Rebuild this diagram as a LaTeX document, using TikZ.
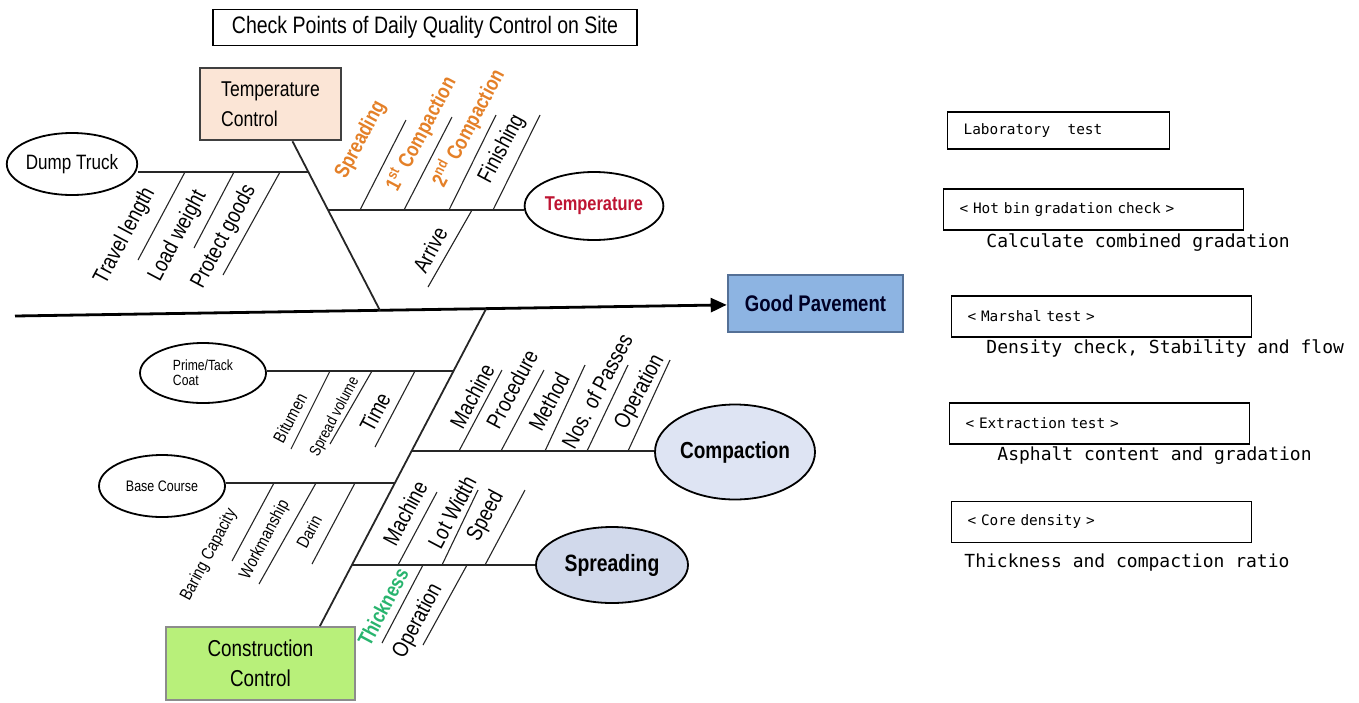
\documentclass[tikz,border=0pt]{standalone}
\usepackage{fontspec}
\setmainfont{Liberation Sans}[FakeStretch=0.82]
\newfontfamily\labmono{DejaVu Sans Mono}
\usetikzlibrary{arrows.meta,shapes.geometric}
\definecolor{tcfill}{RGB}{251,229,214}
\definecolor{ccfill}{RGB}{184,240,122}
\definecolor{gpfill}{RGB}{141,180,226}
\definecolor{gpdraw}{RGB}{84,112,150}
\definecolor{cpfill}{RGB}{222,228,243}
\definecolor{spfill}{RGB}{209,217,235}
\definecolor{tempred}{RGB}{190,20,50}
\definecolor{orng}{RGB}{228,128,40}
\definecolor{thgreen}{RGB}{40,180,110}

\begin{document}
\begin{tikzpicture}[x=0.5pt,y=-0.5pt,
  bone/.style={line width=0.55pt,draw=black!85},
  branch/.style={line width=0.75pt,draw=black!85},
  mainbone/.style={line width=0.9pt,draw=black!85},
  spine/.style={line width=1.4pt,-{Triangle[length=8pt,width=7pt]}},
  lab/.style={rotate=62,inner sep=0pt,font=\fontsize{11.2}{12}\selectfont},
  slab/.style={rotate=62,inner sep=0pt,font=\fontsize{8.7}{9}\selectfont},
  clab/.style={rotate=62,inner sep=0pt,font=\bfseries\fontsize{10.5}{12}\selectfont},
  oval/.style={ellipse,draw,line width=0.9pt,inner sep=0pt},
  testbox/.style={draw,line width=0.6pt,anchor=west,inner xsep=8pt,align=left,minimum height=20.5pt,text width=134pt,font=\labmono\fontsize{7.2}{8}\selectfont},
  testtxt/.style={anchor=west,inner sep=0pt,font=\labmono\fontsize{9}{10}\selectfont}]
\useasboundingbox (0,0) rectangle (1359,702);

\node[draw,line width=0.7pt,minimum width=212pt,minimum height=17.5pt,font=\fontsize{11.9}{13}\selectfont] (title) at (425,27.5) {Check Points of Daily Quality Control on Site\hspace{6pt}};

\node[draw=black!75,line width=1.3pt,fill=tcfill,minimum width=70.5pt,minimum height=36pt,align=left,font=\fontsize{10.7}{15}\selectfont] (tc) at (270.5,104) {Temperature\hspace{6pt}\\Control};
\node[draw=black!45,line width=0.9pt,fill=ccfill,minimum width=94.5pt,minimum height=36.5pt,align=center,font=\fontsize{11.5}{15}\selectfont] (cc) at (260.5,663.5) {Construction\\Control};
\node[draw=gpdraw,line width=1.3pt,fill=gpfill,minimum width=87.5pt,minimum height=28.5pt,font=\bfseries\fontsize{11.3}{13}\selectfont,text=black!85!blue] (gp) at (815.5,303.5) {Good Pavement};

\node[oval,minimum width=61pt,minimum height=31pt,font=\fontsize{10.4}{12}\selectfont] (dump) at (72,164) {Dump Truck};
\node[oval,minimum width=66pt,minimum height=34pt,font=\bfseries\fontsize{10}{12}\selectfont,text=tempred] (temp) at (594,206) {Temperature};
\node[oval,minimum width=63pt,minimum height=30pt,align=left,font=\fontsize{7.4}{7.5}\selectfont] (prime) at (203,373) {Prime/Tack\\Coat};
\node[oval,minimum width=63pt,minimum height=31pt,font=\fontsize{7.6}{9}\selectfont] (base) at (162,486) {Base Course};
\node[oval,fill=cpfill,minimum width=80pt,minimum height=47.5pt,font=\bfseries\fontsize{11.6}{13}\selectfont] (comp) at (735,452) {Compaction};
\node[oval,fill=spfill,minimum width=76pt,minimum height=38pt,font=\bfseries\fontsize{11.8}{13}\selectfont] (spread) at (612,565) {Spreading};

\coordinate (tail) at (15,316);
\draw[spine] (tail) -- (gp);

\coordinate (uj) at (380,310.5);
\coordinate (lj) at (486,309);
\draw[mainbone] ([xshift=11pt]tc.south) -- (uj);
\draw[mainbone] (lj) -- ([xshift=-18pt]cc.north east);

\coordinate (dj) at (309,172);
\coordinate (tj) at (328,210);
\coordinate (pj) at (453,371);
\coordinate (cj) at (411,451);
\coordinate (bj) at (395,483);
\coordinate (sj) at (352,565);
\draw[branch] (dj -| dump.east) -- (dj);
\draw[branch] (tj) -- (tj -| temp.west);
\draw[branch] (pj -| prime.east) -- (pj);
\draw[branch] (bj -| base.east) -- (bj);
\draw[branch] (cj) -- (cj -| comp.west);
\draw[branch] (sj) -- (sj -| spread.west);

\foreach \sx/\dx/\dy [count=\i] in {185/-47/88,234/-40/76,280/-57/103}{
  \coordinate (d\i) at (\sx,172);
  \path (d\i) ++(\dx,\dy) coordinate (d\i e);
  \draw[bone] (d\i) -- (d\i e);}
\foreach \sx/\dx/\dy [count=\i] in {360/46/-90,404/48/-93,449/47/-95,493/47/-95,472/-44/77}{
  \coordinate (t\i) at (\sx,210);
  \path (t\i) ++(\dx,\dy) coordinate (t\i e);
  \draw[bone] (t\i) -- (t\i e);}
\foreach \sx/\dx/\dy [count=\i] in {330/-39/78,372/-42/73,415/-40/76}{
  \coordinate (p\i) at (\sx,371);
  \path (p\i) ++(\dx,\dy) coordinate (p\i e);
  \draw[bone] (p\i) -- (p\i e);}
\foreach \sx/\dx/\dy [count=\i] in {274/-42/78,316/-57/101,355/-43/81}{
  \coordinate (b\i) at (\sx,483);
  \path (b\i) ++(\dx,\dy) coordinate (b\i e);
  \draw[bone] (b\i) -- (b\i e);}
\foreach \sx/\dx/\dy [count=\i] in {459/43/-81,501/43/-81,545/40/-86,587/41/-86,628/42/-91}{
  \coordinate (c\i) at (\sx,451);
  \path (c\i) ++(\dx,\dy) coordinate (c\i e);
  \draw[bone] (c\i) -- (c\i e);}
\foreach \sx/\dx/\dy [count=\i] in {398/39/-73,442/36/-75,485/40/-75,423/-41/78,467/-44/80}{
  \coordinate (s\i) at (\sx,565);
  \path (s\i) ++(\dx,\dy) coordinate (s\i e);
  \draw[bone] (s\i) -- (s\i e);}

\node[lab] (travel) at (125,236) {Travel length};
\node[lab] (load) at (178,236) {Load weight};
\node[lab] (protect) at (224,237) {Protect goods};
\node[clab,text=orng] (tspread) at (361,140) {Spreading};
\node[clab,text=orng] (tcomp1) at (421,134) {1\textsuperscript{st} Compaction};
\node[clab,text=orng] (tcomp2) at (468,128) {2\textsuperscript{nd} Compaction};
\node[lab] (finish) at (502,149) {Finishing};
\node[lab] (arrive) at (430,250) {Arrive};
\node[slab] (bitumen) at (290,418) {Bitumen};
\node[slab,font=\fontsize{7.9}{9}\selectfont] (svolume) at (335,417) {Spread volume};
\node[lab] (ptime) at (375,412) {Time};
\node[slab] (baring) at (209,555) {Baring Capacity};
\node[slab] (workman) at (265,540) {Workmanship};
\node[slab] (darin) at (309,532) {Darin};
\node[lab] (cmachine) at (472,396) {Machine};
\node[lab] (cproc) at (512,389) {Procedure};
\node[lab] (cmethod) at (549,402) {Method};
\node[lab] (cpasses) at (597,391) {Nos. of Passes};
\node[lab] (coper) at (640,392) {Operation};
\node[lab] (smachine) at (405,513) {Machine};
\node[lab] (swidth) at (452,512) {Lot Width};
\node[lab] (sspeed) at (486,516) {Speed};
\node[clab,text=thgreen] (sthick) at (383,607) {Thickness};
\node[lab] (soper) at (418,621) {Operation};

\node[testbox,minimum height=18.5pt,text width=95pt] (labtest) at (947,130.5) {Laboratory\hspace{1.2em}test};
\node[testbox] (hotbin) at (943,209.5) {< Hot bin gradation check >};
\node[testtxt] (hotbintxt) at (986,243) {Calculate combined gradation};
\node[testbox] (marshal) at (951,316.5) {< Marshal test >};
\node[testtxt] (marshaltxt) at (986,348) {Density check, Stability and flow};
\node[testbox] (extract) at (949,423.5) {< Extraction test >};
\node[testtxt] (extracttxt) at (997,456) {Asphalt content and gradation};
\node[testbox] (core) at (951,522) {< Core density >};
\node[testtxt] (coretxt) at (964,563) {Thickness and compaction ratio};
\end{tikzpicture}
\end{document}
